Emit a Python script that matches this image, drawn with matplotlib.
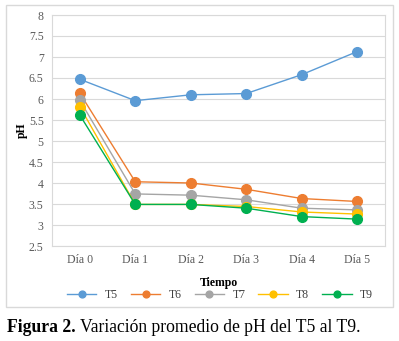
import matplotlib.pyplot as plt
from matplotlib.patches import Rectangle

# Datos
dias = ['Día 0', 'Día 1', 'Día 2', 'Día 3', 'Día 4', 'Día 5']
t5 = [6.47, 5.96, 6.10, 6.13, 6.58, 7.13]
t6 = [6.14, 4.03, 4.00, 3.85, 3.63, 3.56]
t7 = [5.97, 3.74, 3.71, 3.60, 3.40, 3.36]
t8 = [5.82, 3.49, 3.49, 3.44, 3.31, 3.26]
t9 = [5.62, 3.49, 3.49, 3.40, 3.20, 3.14]
nombres = ['T5', 'T6', 'T7', 'T8', 'T9']
colores = ['#5B9BD5', '#ED7D31', '#A5A5A5', '#FFC000', '#00B050']

plt.rcParams['font.family'] = ['Liberation Serif', 'DejaVu Serif']

fig = plt.figure(figsize=(3.99, 3.41), dpi=100)
W, H = 399, 341

# Borde exterior del grafico
fig.patches.append(Rectangle((6 / W, 1 - 307 / H), 387 / W, 302 / H,
                             transform=fig.transFigure, fill=False,
                             edgecolor='#D9D9D9', linewidth=1))

ax = fig.add_axes([52 / W, 1 - 246 / H, 333 / W, 231 / H])
x = range(len(dias))
for serie, nombre, color in zip([t5, t6, t7, t8, t9], nombres, colores):
    ax.plot(x, serie, marker='o', color=color, label=nombre,
            markersize=7, linewidth=1)

ax.set_xlim(-0.5, 5.5)
ax.set_ylim(2.5, 8)
ax.set_yticks([2.5, 3, 3.5, 4, 4.5, 5, 5.5, 6, 6.5, 7, 7.5, 8])
ax.set_yticklabels(['2.5', '3', '3.5', '4', '4.5', '5', '5.5', '6', '6.5', '7', '7.5', '8'])
ax.set_xticks(list(x))
ax.set_xticklabels(dias)
ax.tick_params(length=0, labelsize=8.5, colors='#595959', pad=6)
ax.grid(axis='y', color='#D9D9D9', linewidth=0.8)
ax.set_axisbelow(True)
for s in ax.spines.values():
    s.set_color('#D9D9D9')
    s.set_linewidth(0.8)

ax.set_xlabel('Tiempo', fontsize=8.5, fontweight='bold', labelpad=8)
ax.set_ylabel('pH', fontsize=8.5, fontweight='bold', labelpad=1)

ax.legend(loc='center', bbox_to_anchor=(220 / W, 1 - 295 / H), bbox_transform=fig.transFigure,
          ncol=5, frameon=False, fontsize=8.5, handlelength=2.5, columnspacing=1.1,
          handletextpad=0.7, markerscale=0.7, labelcolor='#404040')

# Pie de figura
r = fig.canvas.get_renderer()
t1 = fig.text(7 / W, 1 - 327 / H, 'Figura 2.', fontsize=12.7, fontweight='bold', va='center')
bb = t1.get_window_extent(renderer=r)
fig.text((bb.x1 + 4) / W, 1 - 327 / H, 'Variación promedio de pH del T5 al T9.',
         fontsize=12.7, va='center')

plt.savefig('out.png', dpi=100)
